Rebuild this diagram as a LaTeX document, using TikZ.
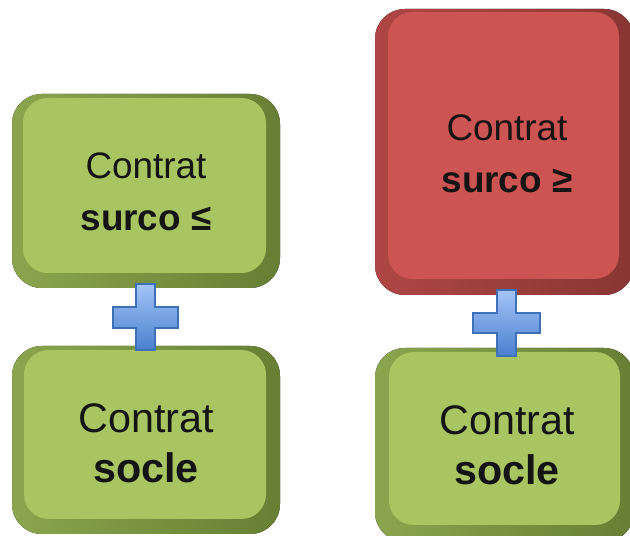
\documentclass[tikz,border=0pt]{standalone}
\usepackage{fontspec}
\setmainfont{Liberation Sans}
\usetikzlibrary{positioning}
\definecolor{greenface}{HTML}{A8C562}
\definecolor{greenrim}{HTML}{667F34}
\definecolor{redface}{HTML}{CC5452}
\definecolor{redrim}{HTML}{883633}
\definecolor{crosstop}{HTML}{A3C4F7}
\definecolor{crossbot}{HTML}{4A80CF}
\definecolor{crossline}{HTML}{3D70B6}
\begin{document}
\begin{tikzpicture}[x=0.02cm, y=-0.02cm,
    rim/.style={rounded corners=17pt},
    face/.style={rounded corners=14pt},
    caption/.style={align=center, text=black!92},
    crossbar/.style={draw=crossline, line width=1.1pt, top color=crosstop, bottom color=crossbot}]
    \useasboundingbox (0,0) rectangle (630,536);

    % boxes
    \fill[rim, left color=greenrim!45!greenface, right color=greenrim] (12,94) rectangle (280,288);
    \fill[face, greenface] (23,98) rectangle (266,273);
    \fill[rim, left color=greenrim!45!greenface, right color=greenrim] (12,346) rectangle (280,534);
    \fill[face, greenface] (24,350) rectangle (266,519);
    \fill[rim, left color=redrim!45!redface, right color=redrim] (375,9) rectangle (634,295);
    \fill[face, redface] (388,12) rectangle (619,279);
    \fill[rim, left color=greenrim!45!greenface, right color=greenrim] (375,348) rectangle (634,542);
    \fill[face, greenface] (389,352) rectangle (620,525);

    % texts
    \node[caption, font=\fontsize{21}{29.5}\selectfont] (surcoinf) at (146,192) {Contrat\\\textbf{surco ≤}};
    \node[caption, font=\fontsize{23.5}{28.5}\selectfont] (soclegauche) at (146,443) {Contrat\\\textbf{socle}};
    \node[caption, font=\fontsize{21}{29.5}\selectfont] (surcosup) at (507,154) {Contrat\\\textbf{surco ≥}};
    \node[caption, font=\fontsize{23.5}{28.5}\selectfont] (socledroite) at (507,445) {Contrat\\\textbf{socle}};

    % plus signs
    \draw[crossbar] (136,284) -- (155,284) -- (155,307) -- (178,307) -- (178,328) -- (155,328)
        -- (155,350) -- (136,350) -- (136,328) -- (113,328) -- (113,307) -- (136,307) -- cycle;
    \draw[crossbar] (497,290) -- (516,290) -- (516,313) -- (540,313) -- (540,333) -- (516,333)
        -- (516,356) -- (497,356) -- (497,333) -- (473,333) -- (473,313) -- (497,313) -- cycle;
\end{tikzpicture}
\end{document}
